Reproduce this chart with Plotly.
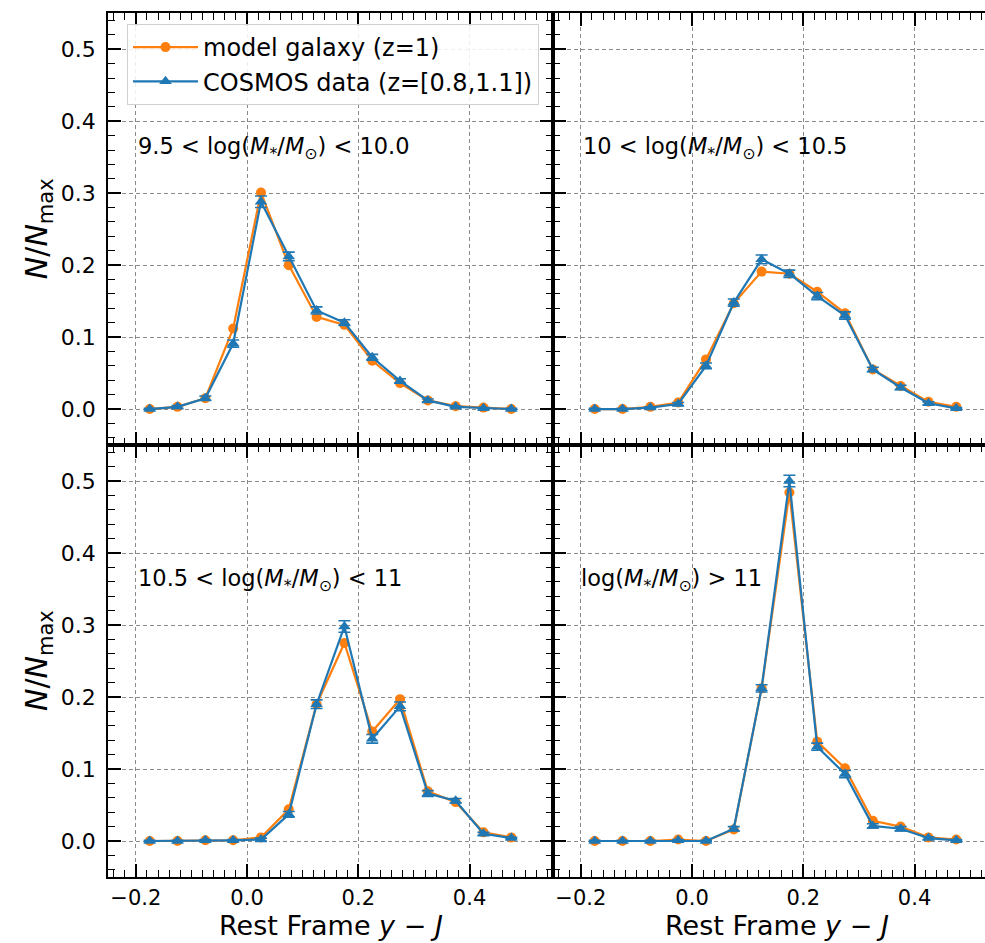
import plotly.graph_objects as go

# ---------------- data ----------------
x_bins = [-0.175, -0.125, -0.075, -0.025, 0.025, 0.075, 0.125, 0.175,
          0.225, 0.275, 0.325, 0.375, 0.425, 0.475]

model_p1 = [0.000, 0.003, 0.015, 0.112, 0.301, 0.200, 0.128, 0.117, 0.067, 0.036, 0.012, 0.004, 0.002, 0.000]
cosmos_p1 = [0.000, 0.003, 0.015, 0.091, 0.288, 0.212, 0.137, 0.120, 0.072, 0.039, 0.012, 0.003, 0.001, 0.000]
err_p1 = [0.001, 0.002, 0.003, 0.005, 0.008, 0.006, 0.005, 0.004, 0.004, 0.003, 0.002, 0.001, 0.001, 0.001]

model_p2 = [0.000, 0.000, 0.003, 0.009, 0.069, 0.147, 0.191, 0.188, 0.163, 0.133, 0.055, 0.032, 0.010, 0.003]
cosmos_p2 = [0.000, 0.000, 0.002, 0.007, 0.060, 0.148, 0.208, 0.188, 0.157, 0.130, 0.055, 0.030, 0.008, 0.001]
err_p2 = [0.001, 0.001, 0.001, 0.002, 0.004, 0.005, 0.006, 0.005, 0.005, 0.005, 0.003, 0.003, 0.002, 0.001]

model_p3 = [0.000, 0.000, 0.001, 0.001, 0.005, 0.044, 0.190, 0.275, 0.152, 0.197, 0.069, 0.054, 0.012, 0.005]
cosmos_p3 = [0.000, 0.000, 0.001, 0.001, 0.002, 0.037, 0.190, 0.298, 0.142, 0.187, 0.066, 0.056, 0.010, 0.004]
err_p3 = [0.001, 0.001, 0.001, 0.001, 0.002, 0.004, 0.006, 0.008, 0.006, 0.006, 0.004, 0.003, 0.002, 0.001]

model_p4 = [0.000, 0.000, 0.000, 0.002, 0.000, 0.016, 0.212, 0.484, 0.138, 0.101, 0.028, 0.020, 0.005, 0.002]
cosmos_p4 = [0.000, 0.000, 0.000, 0.001, 0.000, 0.017, 0.212, 0.500, 0.131, 0.093, 0.021, 0.017, 0.004, 0.001]
err_p4 = [0.001, 0.001, 0.001, 0.001, 0.001, 0.003, 0.005, 0.008, 0.005, 0.005, 0.003, 0.003, 0.002, 0.001]

panel_labels = [
    "9.5 < log(<i>M</i><sub>*</sub>/<i>M</i><sub>⊙</sub>) < 10.0",
    "10 < log(<i>M</i><sub>*</sub>/<i>M</i><sub>⊙</sub>) < 10.5",
    "10.5 < log(<i>M</i><sub>*</sub>/<i>M</i><sub>⊙</sub>) < 11",
    "log(<i>M</i><sub>*</sub>/<i>M</i><sub>⊙</sub>) > 11",
]
model_name = "model galaxy (z=1)"
cosmos_name = "COSMOS data (z=[0.8,1.1])"
x_title = "Rest Frame <i>y</i> − <i>J</i>"
y_title = "<i>N</i>/<i>N</i><sub>max</sub>"

ORANGE = "#ff7f0e"
BLUE = "#1f77b4"
FONT = "DejaVu Sans"

W, H = 985, 943
fig = go.Figure()

panels = [
    (model_p1, cosmos_p1, err_p1),
    (model_p2, cosmos_p2, err_p2),
    (model_p3, cosmos_p3, err_p3),
    (model_p4, cosmos_p4, err_p4),
]

for i, (m, c, e) in enumerate(panels):
    suffix = "" if i == 0 else str(i + 1)
    fig.add_trace(go.Scatter(
        x=x_bins, y=m, mode="lines+markers", name=model_name,
        line=dict(color=ORANGE, width=2.2),
        marker=dict(symbol="circle", size=10, color=ORANGE),
        xaxis="x" + suffix, yaxis="y" + suffix, showlegend=(i == 0),
    ))
    fig.add_trace(go.Scatter(
        x=x_bins, y=c, mode="lines+markers", name=cosmos_name,
        line=dict(color=BLUE, width=2.2),
        marker=dict(symbol="triangle-up", size=11, color=BLUE),
        error_y=dict(type="data", array=e, visible=True, color=BLUE, thickness=1.6, width=6),
        xaxis="x" + suffix, yaxis="y" + suffix, showlegend=(i == 0),
    ))

# geometry (pixels)
left_x0, mid_x, right_x1 = 108, 553, 985
top_y0, mid_y, bot_y1 = 13.3, 445, 877
px_per_unit_x = (mid_x - left_x0) / 0.8

xd_left = [left_x0 / W, mid_x / W]
xd_right = [mid_x / W, 1.0]
yd_top = [1 - mid_y / H, 1 - top_y0 / H]
yd_bot = [1 - bot_y1 / H, 1 - mid_y / H]
x_range_left = [-0.25, 0.55]
x_range_right = [-0.25, -0.25 + (right_x1 - mid_x) / px_per_unit_x]

minor = dict(ticks="inside", ticklen=7, tickwidth=1.3, tickcolor="black",
             dtick=0.02, tick0=0, showgrid=False)

def xaxis(domain, rng, anchor, labels):
    return dict(domain=domain, range=rng, anchor=anchor, showline=True, linecolor="black",
                linewidth=1.5, mirror="allticks", ticks="inside", ticklen=13, tickwidth=1.5,
                tickcolor="black", dtick=0.2, tick0=0, tickformat=".1f",
                showticklabels=labels, tickfont=dict(family=FONT, size=21, color="black"),
                showgrid=True, gridcolor="#8a8a8a", gridwidth=1, griddash="4px,3px",
                zeroline=False, minor=minor, automargin=False, ticklabelstandoff=1)

def yaxis(domain, anchor, labels, mirror):
    return dict(domain=domain, range=[-0.05, 0.55], anchor=anchor, showline=True,
                linecolor="black", linewidth=1.5, mirror=mirror, ticks="inside", ticklen=13,
                tickwidth=1.5, tickcolor="black", dtick=0.1, tick0=0, tickformat=".1f",
                showticklabels=labels, tickfont=dict(family=FONT, size=22, color="black"),
                showgrid=True, gridcolor="#8a8a8a", gridwidth=1, griddash="4px,3px",
                zeroline=False, minor=minor, automargin=False, ticklabelstandoff=6)

fig.update_layout(
    width=W, height=H,
    margin=dict(l=0, r=0, t=0, b=0),
    paper_bgcolor="white", plot_bgcolor="white",
    font=dict(family=FONT, color="black"),
    xaxis=xaxis(xd_left, x_range_left, "y", False),
    yaxis=yaxis(yd_top, "x", True, "allticks"),
    xaxis2=xaxis(xd_right, x_range_right, "y2", False),
    yaxis2=yaxis(yd_top, "x2", False, False),
    xaxis3=xaxis(xd_left, x_range_left, "y3", True),
    yaxis3=yaxis(yd_bot, "x3", True, "allticks"),
    xaxis4=xaxis(xd_right, x_range_right, "y4", True),
    yaxis4=yaxis(yd_bot, "x4", False, False),
    legend=dict(x=127 / W, y=1 - 24 / H, xanchor="left", yanchor="top",
                bgcolor="rgba(255,255,255,0.85)", bordercolor="#d0d0d0", borderwidth=1,
                itemwidth=65,
                font=dict(family=FONT, size=24, color="black"), tracegroupgap=0),
    showlegend=True,
)

annotations = []
label_pos = [(136, 148), (581, 148), (136, 580), (579, 580)]
for txt, (px, py) in zip(panel_labels, label_pos):
    annotations.append(dict(text=txt, x=px / W, y=1 - py / H, xref="paper", yref="paper",
                            xanchor="left", yanchor="middle", showarrow=False,
                            font=dict(family=FONT, size=22.5, color="black")))
for py in [(top_y0 + mid_y) / 2, (mid_y + bot_y1) / 2]:
    annotations.append(dict(text=y_title, x=38 / W, y=1 - py / H, xref="paper", yref="paper",
                            xanchor="center", yanchor="middle", textangle=-90, showarrow=False,
                            font=dict(family=FONT, size=30, color="black")))
for px in [(left_x0 + mid_x) / 2, 777]:
    annotations.append(dict(text=x_title, x=px / W, y=0.0, xref="paper", yref="paper",
                            xanchor="center", yanchor="bottom", showarrow=False,
                            font=dict(family=FONT, size=27, color="black")))
fig.update_layout(annotations=annotations)

fig.write_html("out.html")
